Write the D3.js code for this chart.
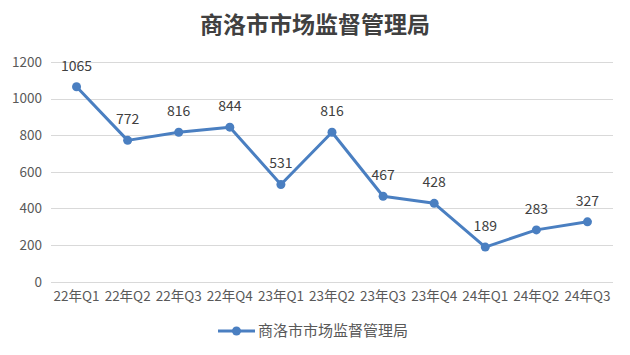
<!DOCTYPE html>
<html>
<head>
<meta charset="utf-8">
<script src="https://cdn.jsdelivr.net/npm/d3@7"></script>
<style>
  body { margin: 0; background: #fff; }
  text { font-family: "Noto Sans CJK SC", "Noto Sans", sans-serif; }
</style>
</head>
<body>
<div id="chart"></div>
<script>
const seriesName = "商洛市市场监督管理局";
const quarters = ["22年Q1", "22年Q2", "22年Q3", "22年Q4", "23年Q1", "23年Q2",
  "23年Q3", "23年Q4", "24年Q1", "24年Q2", "24年Q3"];
const counts = [1065, 772, 816, 844, 531, 816, 467, 428, 189, 283, 327];
const yTicks = [0, 200, 400, 600, 800, 1000, 1200];

const width = 630, height = 355;
const margin = { top: 62, right: 17, bottom: 74, left: 51 };

const svg = d3.select("#chart").append("svg")
  .attr("width", width)
  .attr("height", height);

// title
svg.append("text")
  .attr("x", width / 2)
  .attr("y", 33)
  .attr("text-anchor", "middle")
  .style("font-size", "23px")
  .style("font-weight", "bold")
  .style("fill", "#404040")
  .text(seriesName);

const x = d3.scaleBand()
  .domain(quarters)
  .range([margin.left, width - margin.right]);

const y = d3.scaleLinear()
  .domain([0, 1200])
  .range([height - margin.bottom + 0.7, margin.top]);

// gridlines
svg.append("g")
  .selectAll("line")
  .data(yTicks)
  .join("line")
  .attr("x1", margin.left)
  .attr("x2", width - margin.right)
  .attr("y1", d => Math.round(y(d)) + 0.5)
  .attr("y2", d => Math.round(y(d)) + 0.5)
  .attr("stroke", "#d9d9d9")
  .attr("stroke-width", 1);

// y axis labels
const yAxis = svg.append("g")
  .attr("transform", `translate(${margin.left - 9},0)`)
  .call(d3.axisLeft(y).tickValues(yTicks).tickFormat(d3.format("d")).tickSize(0).tickPadding(0));
yAxis.select(".domain").remove();
yAxis.selectAll("text")
  .style("font-size", "13.5px")
  .style("fill", "#595959")
  .style("font-family", "'Noto Sans CJK SC', sans-serif");

// x axis labels
const xAxis = svg.append("g")
  .attr("transform", `translate(0,${y(0)})`)
  .call(d3.axisBottom(x).tickSize(0).tickPadding(10));
xAxis.select(".domain").remove();
xAxis.selectAll("text")
  .style("font-size", "13.5px")
  .style("fill", "#595959")
  .style("font-family", "'Noto Sans CJK SC', sans-serif");

const cx = (d, i) => x(quarters[i]) + x.bandwidth() / 2;
const color = "#4a7fc1";

// line
const line = d3.line()
  .x((d, i) => cx(d, i))
  .y(d => y(d));

svg.append("path")
  .datum(counts)
  .attr("fill", "none")
  .attr("stroke", color)
  .attr("stroke-width", 3)
  .attr("stroke-linejoin", "round")
  .attr("d", line);

// markers
svg.append("g")
  .selectAll("circle")
  .data(counts)
  .join("circle")
  .attr("cx", cx)
  .attr("cy", d => y(d))
  .attr("r", 4.5)
  .attr("fill", color);

// data labels
svg.append("g")
  .selectAll("text")
  .data(counts)
  .join("text")
  .attr("x", cx)
  .attr("y", d => y(d) - 16)
  .attr("text-anchor", "middle")
  .style("font-size", "14px")
  .style("fill", "#404040")
  .text(d => d);

// legend
const lg = svg.append("g").attr("transform", "translate(218,331)");
lg.append("line")
  .attr("x1", 0).attr("x2", 37)
  .attr("y1", 0).attr("y2", 0)
  .attr("stroke", color)
  .attr("stroke-width", 3);
lg.append("circle")
  .attr("cx", 18.5).attr("cy", 0).attr("r", 4.5)
  .attr("fill", color);
lg.append("text")
  .attr("x", 40)
  .attr("y", 0)
  .attr("dy", "0.35em")
  .style("font-size", "15px")
  .style("fill", "#595959")
  .text(seriesName);
</script>
</body>
</html>
